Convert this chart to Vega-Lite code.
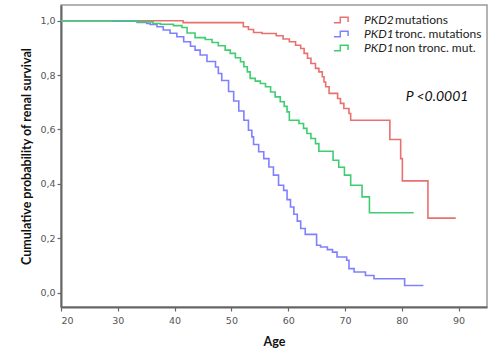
{
  "$schema": "https://vega.github.io/schema/vega-lite/v6.json",
  "width": 426,
  "height": 302,
  "autosize": {"type": "none"},
  "padding": {"left": 61, "top": 5, "right": 6, "bottom": 45},
  "background": "white",
  "config": {
    "view": {"stroke": "#9a9a9a", "strokeWidth": 1.5},
    "font": "Lato",
    "axis": {
      "grid": false,
      "domainColor": "#666",
      "domainWidth": 2,
      "tickColor": "#666",
      "tickSize": 4,
      "tickWidth": 1.2,
      "labelFont": "DejaVu Sans",
      "labelFontSize": 9.5,
      "labelColor": "#555",
      "titleFont": "Lato",
      "titleFontWeight": "bold",
      "titleFontSize": 12.5,
      "titleColor": "#111"
    }
  },
  "layer": [
    {
      "data": {
        "values": [
          {"series": "PKD2 mutations", "age": 20, "surv": 1},
          {"series": "PKD2 mutations", "age": 41.5, "surv": 0.993},
          {"series": "PKD2 mutations", "age": 52.1, "surv": 0.978},
          {"series": "PKD2 mutations", "age": 53.0, "surv": 0.968},
          {"series": "PKD2 mutations", "age": 53.9, "surv": 0.957},
          {"series": "PKD2 mutations", "age": 55.4, "surv": 0.953},
          {"series": "PKD2 mutations", "age": 57.9, "surv": 0.945},
          {"series": "PKD2 mutations", "age": 59.1, "surv": 0.933},
          {"series": "PKD2 mutations", "age": 60.2, "surv": 0.923},
          {"series": "PKD2 mutations", "age": 61.3, "surv": 0.910},
          {"series": "PKD2 mutations", "age": 62.2, "surv": 0.898},
          {"series": "PKD2 mutations", "age": 62.8, "surv": 0.880},
          {"series": "PKD2 mutations", "age": 63.4, "surv": 0.862},
          {"series": "PKD2 mutations", "age": 64.0, "surv": 0.843},
          {"series": "PKD2 mutations", "age": 64.8, "surv": 0.825},
          {"series": "PKD2 mutations", "age": 65.4, "surv": 0.812},
          {"series": "PKD2 mutations", "age": 66.0, "surv": 0.794},
          {"series": "PKD2 mutations", "age": 66.3, "surv": 0.775},
          {"series": "PKD2 mutations", "age": 66.6, "surv": 0.757},
          {"series": "PKD2 mutations", "age": 67.2, "surv": 0.733},
          {"series": "PKD2 mutations", "age": 68.7, "surv": 0.714},
          {"series": "PKD2 mutations", "age": 69.2, "surv": 0.696},
          {"series": "PKD2 mutations", "age": 69.8, "surv": 0.677},
          {"series": "PKD2 mutations", "age": 70.7, "surv": 0.659},
          {"series": "PKD2 mutations", "age": 71.0, "surv": 0.634},
          {"series": "PKD2 mutations", "age": 77.9, "surv": 0.563},
          {"series": "PKD2 mutations", "age": 79.8, "surv": 0.493},
          {"series": "PKD2 mutations", "age": 80.1, "surv": 0.411},
          {"series": "PKD2 mutations", "age": 84.6, "surv": 0.274},
          {"series": "PKD2 mutations", "age": 89.5, "surv": 0.274},

          {"series": "PKD1 tronc. mutations", "age": 20, "surv": 1},
          {"series": "PKD1 tronc. mutations", "age": 29.2, "surv": 0.998},
          {"series": "PKD1 tronc. mutations", "age": 33.4, "surv": 0.994},
          {"series": "PKD1 tronc. mutations", "age": 35.1, "surv": 0.990},
          {"series": "PKD1 tronc. mutations", "age": 35.7, "surv": 0.986},
          {"series": "PKD1 tronc. mutations", "age": 36.9, "surv": 0.978},
          {"series": "PKD1 tronc. mutations", "age": 38.0, "surv": 0.966},
          {"series": "PKD1 tronc. mutations", "age": 39.2, "surv": 0.954},
          {"series": "PKD1 tronc. mutations", "age": 40.4, "surv": 0.941},
          {"series": "PKD1 tronc. mutations", "age": 41.6, "surv": 0.923},
          {"series": "PKD1 tronc. mutations", "age": 42.8, "surv": 0.906},
          {"series": "PKD1 tronc. mutations", "age": 43.6, "surv": 0.892},
          {"series": "PKD1 tronc. mutations", "age": 44.5, "surv": 0.874},
          {"series": "PKD1 tronc. mutations", "age": 45.7, "surv": 0.850},
          {"series": "PKD1 tronc. mutations", "age": 47.2, "surv": 0.830},
          {"series": "PKD1 tronc. mutations", "age": 47.7, "surv": 0.806},
          {"series": "PKD1 tronc. mutations", "age": 48.3, "surv": 0.780},
          {"series": "PKD1 tronc. mutations", "age": 49.5, "surv": 0.740},
          {"series": "PKD1 tronc. mutations", "age": 50.4, "surv": 0.705},
          {"series": "PKD1 tronc. mutations", "age": 51.3, "surv": 0.668},
          {"series": "PKD1 tronc. mutations", "age": 52.2, "surv": 0.634},
          {"series": "PKD1 tronc. mutations", "age": 53.0, "surv": 0.597},
          {"series": "PKD1 tronc. mutations", "age": 53.6, "surv": 0.573},
          {"series": "PKD1 tronc. mutations", "age": 53.9, "surv": 0.545},
          {"series": "PKD1 tronc. mutations", "age": 54.8, "surv": 0.518},
          {"series": "PKD1 tronc. mutations", "age": 55.7, "surv": 0.493},
          {"series": "PKD1 tronc. mutations", "age": 56.6, "surv": 0.462},
          {"series": "PKD1 tronc. mutations", "age": 57.4, "surv": 0.432},
          {"series": "PKD1 tronc. mutations", "age": 58.3, "surv": 0.395},
          {"series": "PKD1 tronc. mutations", "age": 59.2, "surv": 0.376},
          {"series": "PKD1 tronc. mutations", "age": 59.8, "surv": 0.342},
          {"series": "PKD1 tronc. mutations", "age": 60.4, "surv": 0.315},
          {"series": "PKD1 tronc. mutations", "age": 61.0, "surv": 0.288},
          {"series": "PKD1 tronc. mutations", "age": 61.6, "surv": 0.263},
          {"series": "PKD1 tronc. mutations", "age": 62.2, "surv": 0.236},
          {"series": "PKD1 tronc. mutations", "age": 63.0, "surv": 0.214},
          {"series": "PKD1 tronc. mutations", "age": 65.0, "surv": 0.174},
          {"series": "PKD1 tronc. mutations", "age": 65.7, "surv": 0.168},
          {"series": "PKD1 tronc. mutations", "age": 66.9, "surv": 0.158},
          {"series": "PKD1 tronc. mutations", "age": 67.8, "surv": 0.149},
          {"series": "PKD1 tronc. mutations", "age": 68.6, "surv": 0.131},
          {"series": "PKD1 tronc. mutations", "age": 70.3, "surv": 0.119},
          {"series": "PKD1 tronc. mutations", "age": 70.7, "surv": 0.088},
          {"series": "PKD1 tronc. mutations", "age": 71.6, "surv": 0.076},
          {"series": "PKD1 tronc. mutations", "age": 73.6, "surv": 0.063},
          {"series": "PKD1 tronc. mutations", "age": 75.1, "surv": 0.051},
          {"series": "PKD1 tronc. mutations", "age": 80.5, "surv": 0.026},
          {"series": "PKD1 tronc. mutations", "age": 83.8, "surv": 0.026},

          {"series": "PKD1 non tronc. mut.", "age": 20, "surv": 1},
          {"series": "PKD1 non tronc. mut.", "age": 33.6, "surv": 0.996},
          {"series": "PKD1 non tronc. mut.", "age": 36.2, "surv": 0.990},
          {"series": "PKD1 non tronc. mut.", "age": 37.5, "surv": 0.987},
          {"series": "PKD1 non tronc. mut.", "age": 39.8, "surv": 0.982},
          {"series": "PKD1 non tronc. mut.", "age": 41.3, "surv": 0.975},
          {"series": "PKD1 non tronc. mut.", "age": 42.2, "surv": 0.955},
          {"series": "PKD1 non tronc. mut.", "age": 43.6, "surv": 0.938},
          {"series": "PKD1 non tronc. mut.", "age": 45.4, "surv": 0.931},
          {"series": "PKD1 non tronc. mut.", "age": 46.6, "surv": 0.920},
          {"series": "PKD1 non tronc. mut.", "age": 47.7, "surv": 0.908},
          {"series": "PKD1 non tronc. mut.", "age": 48.9, "surv": 0.892},
          {"series": "PKD1 non tronc. mut.", "age": 49.8, "surv": 0.880},
          {"series": "PKD1 non tronc. mut.", "age": 50.7, "surv": 0.864},
          {"series": "PKD1 non tronc. mut.", "age": 51.6, "surv": 0.849},
          {"series": "PKD1 non tronc. mut.", "age": 52.2, "surv": 0.831},
          {"series": "PKD1 non tronc. mut.", "age": 52.8, "surv": 0.812},
          {"series": "PKD1 non tronc. mut.", "age": 53.3, "surv": 0.788},
          {"series": "PKD1 non tronc. mut.", "age": 54.2, "surv": 0.778},
          {"series": "PKD1 non tronc. mut.", "age": 55.1, "surv": 0.769},
          {"series": "PKD1 non tronc. mut.", "age": 56.0, "surv": 0.757},
          {"series": "PKD1 non tronc. mut.", "age": 56.9, "surv": 0.738},
          {"series": "PKD1 non tronc. mut.", "age": 57.7, "surv": 0.720},
          {"series": "PKD1 non tronc. mut.", "age": 58.6, "surv": 0.702},
          {"series": "PKD1 non tronc. mut.", "age": 59.3, "surv": 0.685},
          {"series": "PKD1 non tronc. mut.", "age": 59.8, "surv": 0.665},
          {"series": "PKD1 non tronc. mut.", "age": 60.2, "surv": 0.634},
          {"series": "PKD1 non tronc. mut.", "age": 61.9, "surv": 0.622},
          {"series": "PKD1 non tronc. mut.", "age": 62.7, "surv": 0.604},
          {"series": "PKD1 non tronc. mut.", "age": 63.3, "surv": 0.585},
          {"series": "PKD1 non tronc. mut.", "age": 64.0, "surv": 0.567},
          {"series": "PKD1 non tronc. mut.", "age": 64.8, "surv": 0.548},
          {"series": "PKD1 non tronc. mut.", "age": 65.4, "surv": 0.520},
          {"series": "PKD1 non tronc. mut.", "age": 67.9, "surv": 0.487},
          {"series": "PKD1 non tronc. mut.", "age": 68.9, "surv": 0.461},
          {"series": "PKD1 non tronc. mut.", "age": 69.9, "surv": 0.432},
          {"series": "PKD1 non tronc. mut.", "age": 71.0, "surv": 0.395},
          {"series": "PKD1 non tronc. mut.", "age": 73.0, "surv": 0.352},
          {"series": "PKD1 non tronc. mut.", "age": 74.3, "surv": 0.294},
          {"series": "PKD1 non tronc. mut.", "age": 82.1, "surv": 0.294}
        ]
      },
      "mark": {"type": "line", "interpolate": "step-after", "strokeWidth": 1.6},
      "encoding": {
        "x": {
          "field": "age",
          "type": "quantitative",
          "scale": {"domain": [20, 95], "nice": false, "zero": false},
          "axis": {"values": [20, 30, 40, 50, 60, 70, 80, 90], "title": "Age", "titlePadding": 11, "labelPadding": 4}
        },
        "y": {
          "field": "surv",
          "type": "quantitative",
          "scale": {"domain": [-0.053, 1.058], "nice": false, "zero": false},
          "axis": {
            "values": [0, 0.2, 0.4, 0.6, 0.8, 1],
            "labelExpr": "replace(format(datum.value, '.1f'), '.', ',')",
            "title": "Cumulative probability of renal survival",
            "titlePadding": 6,
            "labelPadding": 2
          }
        },
        "color": {
          "field": "series",
          "type": "nominal",
          "scale": {
            "domain": ["PKD2 mutations", "PKD1 tronc. mutations", "PKD1 non tronc. mut."],
            "range": ["#e8706e", "#8080ff", "#40cc70"]
          },
          "legend": {
            "orient": "none",
            "legendX": 272,
            "legendY": 7,
            "title": null,
            "labelExpr": "split(datum.label, ' ')[0]",
            "labelFont": "Lato",
            "labelFontStyle": "italic",
            "labelFontSize": 12,
            "labelColor": "#222",
            "symbolType": "M-1,0.4H-0.1V-0.4H1V0.3",
            "symbolSize": 200,
            "symbolStrokeWidth": 1.5,
            "symbolFillColor": "transparent",
            "rowPadding": 0,
            "labelOffset": 15
          }
        },
        "strokeDash": {
          "field": "series",
          "type": "nominal",
          "sort": ["PKD2 mutations", "PKD1 tronc. mutations", "PKD1 non tronc. mut."],
          "scale": {"range": [[1, 0], [1, 0], [1, 0]]},
          "legend": {
            "orient": "none",
            "legendX": 303,
            "legendY": 7,
            "title": null,
            "labelExpr": "slice(datum.label, indexof(datum.label, ' ') + 1)",
            "labelFont": "Lato",
            "labelFontSize": 12,
            "labelColor": "#222",
            "symbolType": "M-1,0.4H-0.1V-0.4H1V0.3",
            "symbolSize": 200,
            "symbolOpacity": 0,
            "symbolStrokeWidth": 1.5,
            "symbolFillColor": "transparent",
            "rowPadding": 0,
            "labelOffset": 15
          }
        }
      }
    },
    {
      "data": {"values": [{"t": "P <0.0001"}]},
      "mark": {"type": "text", "font": "Lato", "fontStyle": "italic", "fontSize": 14, "color": "#111"},
      "encoding": {
        "text": {"field": "t"},
        "x": {"datum": 86.2},
        "y": {"datum": 0.72}
      }
    }
  ]
}
